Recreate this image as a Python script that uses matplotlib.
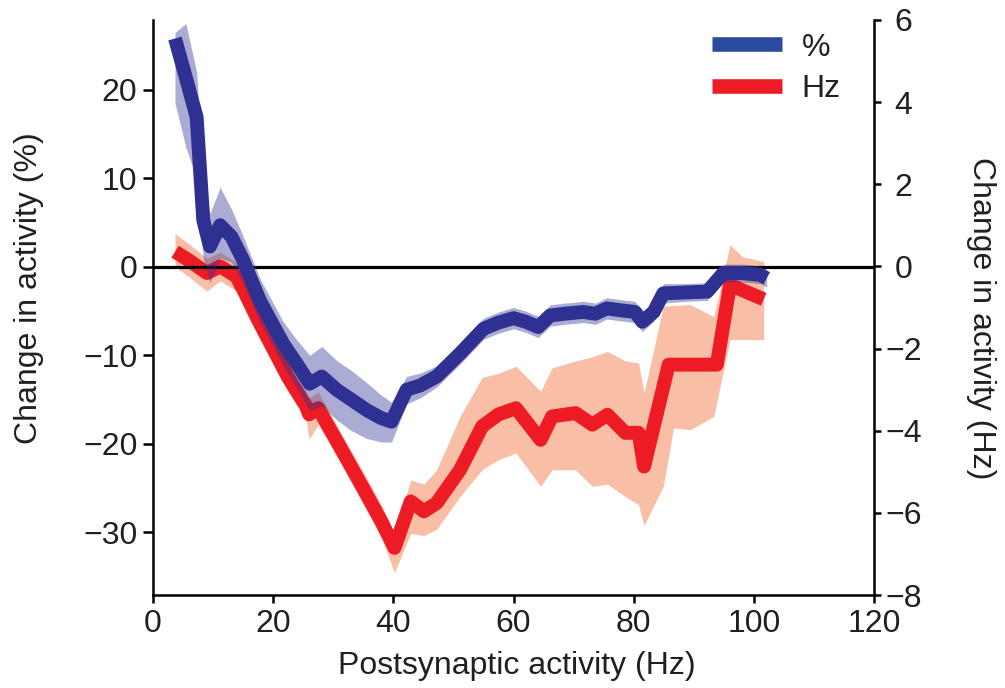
import matplotlib
matplotlib.use('Agg')
from matplotlib import pyplot as plt
from matplotlib.lines import Line2D

plt.rcParams['font.family'] = ['Liberation Sans', 'DejaVu Sans']

# change in activity (%) vs postsynaptic activity (Hz)
pct_x = [3.7, 5.5, 7.3, 8.4, 9.5, 11.2, 13.1, 15.0, 17.8, 21.7, 24.0, 26.1, 28.1,
         30.6, 33.0, 35.6, 38.0, 39.7, 42.2, 44.5, 47.2, 51.1, 55.0, 57.5, 60.0,
         62.0, 64.1, 66.1, 68.5, 71.6, 73.6, 75.5, 77.7, 80.2, 81.4, 83.3, 84.9,
         88.5, 92.2, 94.9, 98.0, 101.0, 102.1]
pct_y = [25.8, 21.4, 16.9, 5.3, 2.3, 4.7, 3.4, 0.8, -3.8, -8.7, -11.0, -13.2, -12.4,
         -13.9, -15.0, -16.2, -17.1, -17.5, -13.9, -13.4, -12.4, -9.8, -7.0, -6.3, -5.8,
         -6.2, -6.8, -5.5, -5.3, -5.1, -5.3, -4.7, -4.9, -5.1, -6.2, -5.1, -3.0,
         -2.9, -2.8, -0.7, -0.7, -0.9, -1.3]
pct_lo = [18.5, 13.5, 10.0, 1.0, -1.8, 1.0, 0.5, -1.8, -6.3, -11.2, -13.8, -16.3, -15.7,
          -17.3, -18.5, -19.4, -19.8, -19.8, -15.5, -14.8, -13.6, -11.0, -8.2, -7.5, -7.0,
          -7.4, -8.0, -6.7, -6.5, -6.3, -6.5, -5.9, -6.1, -6.3, -7.3, -6.2, -4.1,
          -3.9, -3.8, -1.7, -1.7, -1.9, -2.3]
pct_hi = [26.5, 27.5, 22.0, 10.0, 6.0, 9.0, 6.5, 3.5, -1.3, -6.2, -8.3, -10.0, -9.0,
          -10.6, -11.7, -13.1, -14.5, -15.3, -12.4, -12.0, -11.2, -8.6, -5.8, -5.1, -4.6,
          -5.0, -5.6, -4.3, -4.1, -3.9, -4.1, -3.5, -3.7, -3.9, -5.1, -4.0, -1.9,
          -1.9, -1.8, 0.3, 0.3, 0.1, -0.3]

# change in activity (Hz)
hz_x = [3.7, 6.0, 9.0, 11.2, 13.9, 15.0, 17.5, 20.0, 22.5, 25.5, 26.0, 27.5, 31.1,
        35.0, 38.0, 40.2, 42.9, 45.1, 47.2, 51.1, 54.8, 57.5, 60.4, 64.5, 66.4,
        70.3, 73.1, 75.6, 78.6, 80.8, 81.7, 85.8, 93.8, 96.0, 101.6]
hz_y = [0.36, 0.15, -0.16, 0.0, -0.24, -0.55, -1.3, -2.0, -2.7, -3.4, -3.6, -3.45, -4.38,
        -5.4, -6.2, -6.85, -5.72, -5.96, -5.76, -4.95, -3.89, -3.6, -3.45, -4.22, -3.65,
        -3.57, -3.85, -3.61, -4.05, -4.05, -4.87, -2.39, -2.39, -0.45, -0.8]
hz_band_x = [3.7, 6.0, 9.0, 11.2, 13.9, 15.0, 17.5, 20.0, 22.5, 25.5, 26.0, 27.5, 31.1,
             35.0, 38.0, 40.2, 42.9, 45.1, 47.2, 51.1, 54.8, 57.5, 60.4, 64.5, 66.4,
             70.3, 73.1, 75.6, 78.6, 80.8, 81.7, 84.9, 86.6, 89.4, 93.3, 96.0, 98.0, 101.6]
hz_lo = [0.0, -0.25, -0.6, -0.35, -0.6, -0.9, -1.65, -2.35, -3.05, -3.75, -4.2, -3.85, -4.75,
         -5.8, -6.6, -7.45, -6.5, -6.55, -6.4, -5.6, -4.94, -4.7, -4.54, -5.35, -4.95,
         -4.95, -5.35, -5.3, -5.6, -5.8, -6.3, -5.35, -3.93, -3.97, -3.65, -1.78, -1.78, -1.78]
hz_hi = [0.8, 0.55, 0.2, 0.35, 0.1, -0.2, -0.95, -1.65, -2.35, -3.05, -3.2, -3.05, -4.0,
         -5.0, -5.8, -6.5, -5.2, -5.3, -4.95, -3.65, -2.7, -2.6, -2.43, -3.04, -2.47,
         -2.3, -2.2, -2.07, -2.3, -2.35, -3.08, -0.97, -0.95, -0.93, -1.22, 0.53, 0.24, 0.12]

blue = '#2E3192'
red = '#ED1C24'
txt = '#231F20'
fs = 23

fig = plt.figure(figsize=(10.05, 6.88), dpi=100)
ax = fig.add_axes([0.152, 0.135, 0.718, 0.836])
ax2 = ax.twinx()
# blue (%) must sit above the red (Hz) curve
ax.set_zorder(ax2.get_zorder() + 1)
ax.patch.set_visible(False)

ax2.fill_between(hz_band_x, hz_lo, hz_hi, color='#F8BEA6', lw=0, zorder=1)
ax2.plot(hz_x, hz_y, color=red, lw=10, solid_capstyle='butt', zorder=2)

ax.axhline(0, color='black', lw=2.3, zorder=1)
ax.fill_between(pct_x, pct_lo, pct_hi, color=blue, alpha=0.4, lw=0, zorder=2)
ax.plot(pct_x, pct_y, color=blue, lw=10, solid_capstyle='butt', zorder=3)

ax.set_xlim(0, 120)
ax.set_ylim(-37.1, 27.9)
ax2.set_ylim(-8, 6)
ax.set_xticks(range(0, 121, 20))
ax.set_yticks([-30, -20, -10, 0, 10, 20])
ax2.set_yticks(range(-8, 7, 2))

for s in ['top', 'right']:
    ax.spines[s].set_visible(False)
for s in ['top', 'left', 'bottom']:
    ax2.spines[s].set_visible(False)
for s in ['left', 'bottom']:
    ax.spines[s].set_linewidth(1.8)
ax2.spines['right'].set_linewidth(1.8)

ax.tick_params(axis='y', direction='out', length=7, width=1.8, pad=4, labelsize=fs, labelcolor=txt)
ax.tick_params(axis='x', direction='out', length=6, width=1.8, pad=4, labelsize=fs, labelcolor=txt)
ax2.tick_params(axis='y', direction='out', length=5, width=1.8, pad=16, labelsize=fs, labelcolor=txt)
for t in ax2.get_yticklabels():
    t.set_horizontalalignment('center')

ax.set_xlabel('Postsynaptic activity (Hz)', fontsize=fs, color=txt)
ax.set_ylabel('Change in activity (%)', fontsize=fs, color=txt)
ax2.set_ylabel('Change in activity (Hz)', fontsize=fs, color=txt, rotation=270)
ax.xaxis.set_label_coords(0.505, -0.097)
ax.yaxis.set_label_coords(-0.151, 0.534)
ax2.yaxis.set_label_coords(1.168, 0.482)

handles = [Line2D([], [], color='#2A4B9F', lw=10.5, solid_capstyle='butt'),
           Line2D([], [], color=red, lw=10.5, solid_capstyle='butt')]
ax.legend(handles, ['%', 'Hz'], loc='upper left', bbox_to_anchor=(0.775, 0.978),
          frameon=False, fontsize=fs, handlelength=2.2, handletextpad=0.6,
          labelspacing=0.35, borderpad=0, borderaxespad=0, labelcolor=txt)

fig.savefig('out.png', dpi=100)
